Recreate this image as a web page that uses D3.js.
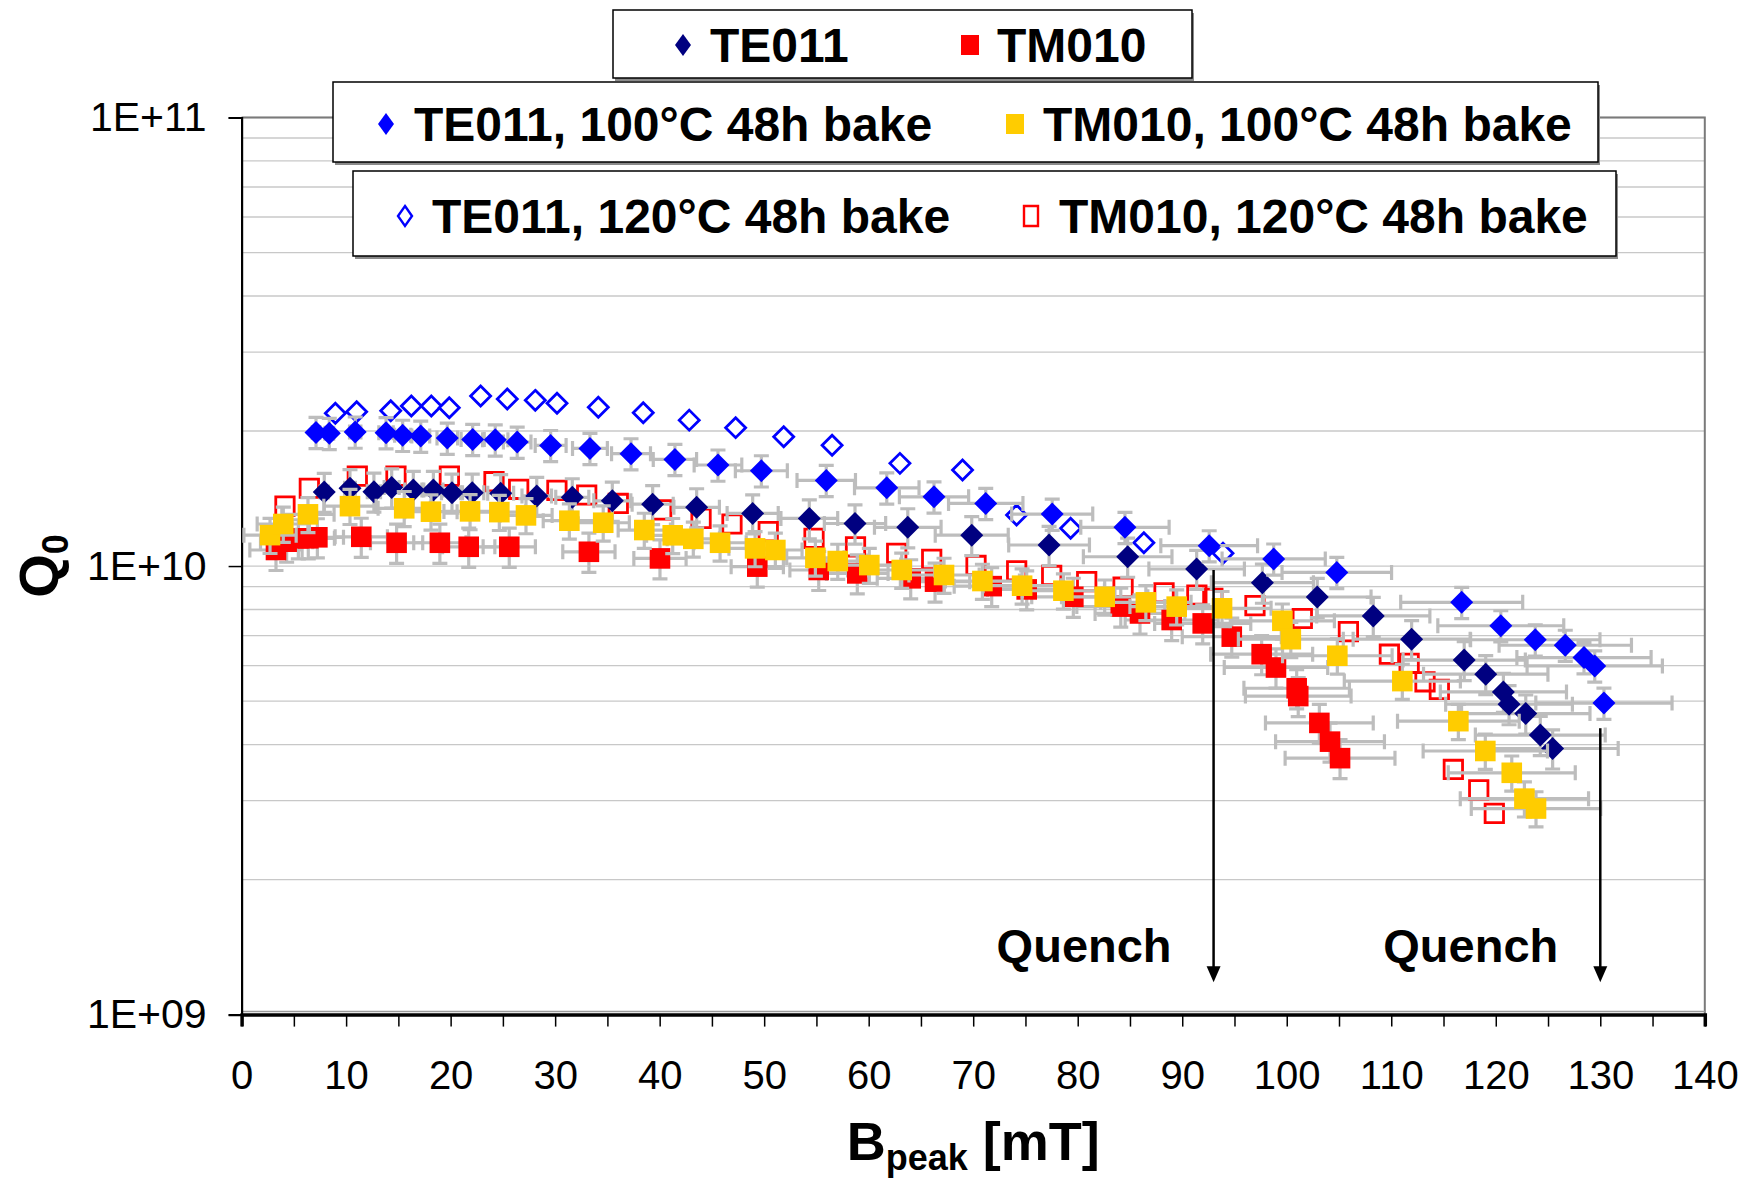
<!DOCTYPE html>
<html><head><meta charset="utf-8">
<script src="https://cdn.jsdelivr.net/npm/d3@7"></script>
<style>html,body{margin:0;padding:0;background:#fff}svg{display:block}</style>
</head><body>
<script>
// ---------------- DATA ----------------
const Q_UNIT = 1e10;               // Q values below are in units of 1E+10
const xTickValues = [0,10,20,30,40,50,60,70,80,90,100,110,120,130,140];
const xMinorTicks = [5,15,25,35,45,55,65,75,85,95,105,115,125,135];
const yTickValues = [1e9,1e10,1e11];
const yTickLabels = ["1E+09","1E+10","1E+11"];

// TE011 (navy filled diamonds)
const te011_B = [7.91,10.37,12.66,14.36,16.43,18.35,20.13,22.07,24.79,28.24,31.64,35.47,39.33,43.54,48.9,54.32,58.69,63.74,69.86,77.26,84.78,91.38,97.67,102.92,108.28,111.95,116.98,119.04,120.73,121.27,122.87,124.26,125.44];
const te011_Q = [1.463,1.491,1.465,1.497,1.478,1.478,1.457,1.457,1.453,1.433,1.423,1.398,1.374,1.352,1.310,1.277,1.244,1.220,1.172,1.114,1.049,0.985,0.918,0.853,0.774,0.687,0.617,0.574,0.524,0.492,0.469,0.420,0.392];

// TM010 (red filled squares)
const tm010_B = [3.29,4.31,5.43,6.38,7.25,11.45,14.83,18.97,21.73,25.61,33.23,40.03,49.34,55.22,58.91,64.02,66.35,71.77,75.12,79.58,84.12,85.96,88.99,91.96,94.74,97.6,98.97,100.95,101.1,103.12,104.14,105.1];
const tm010_Q = [1.086,1.133,1.153,1.153,1.159,1.162,1.127,1.127,1.104,1.104,1.076,1.040,0.997,0.980,0.963,0.939,0.923,0.902,0.887,0.854,0.812,0.784,0.758,0.745,0.696,0.636,0.594,0.534,0.513,0.447,0.406,0.373];

// TE011, 100°C 48h bake (blue filled diamonds)
const te011b100_B = [7.12,8.39,10.87,13.82,15.41,17.14,19.68,22.11,24.27,26.37,29.57,33.33,37.26,41.46,45.58,49.73,55.94,61.73,66.25,71.2,77.56,84.52,92.58,98.75,104.79,116.74,120.48,123.78,126.65,128.44,129.47,130.35];
const te011b100_Q = [1.986,1.976,1.990,1.983,1.957,1.949,1.929,1.916,1.912,1.890,1.857,1.829,1.780,1.729,1.680,1.631,1.552,1.494,1.427,1.379,1.306,1.220,1.110,1.037,0.968,0.830,0.736,0.685,0.666,0.625,0.599,0.495];

// TM010, 100°C 48h bake (gold filled squares)
const tm010b100_B = [2.72,3.99,6.35,10.37,15.56,18.12,21.86,24.66,27.21,31.36,34.6,38.53,41.25,43.22,45.78,49.13,51.07,54.9,57.04,60.06,63.16,67.21,70.88,74.68,78.63,82.58,86.52,89.47,93.81,99.58,100.39,104.84,111.06,116.42,119.0,121.53,122.74,123.85];
const tm010b100_Q = [1.172,1.241,1.304,1.360,1.345,1.322,1.324,1.319,1.297,1.262,1.249,1.203,1.171,1.150,1.127,1.095,1.086,1.043,1.026,1.005,0.980,0.955,0.926,0.904,0.881,0.854,0.830,0.812,0.805,0.755,0.687,0.631,0.554,0.451,0.387,0.346,0.303,0.288];

// TE011, 120°C 48h bake (open blue diamonds)
const te011b120_B = [8.97,11.01,14.27,16.24,18.15,19.87,22.87,25.42,28.1,30.18,34.13,38.43,42.83,47.27,51.87,56.5,62.99,68.98,74.15,79.32,86.33,93.9];
const te011b120_Q = [2.190,2.209,2.219,2.273,2.273,2.254,2.393,2.357,2.341,2.306,2.259,2.196,2.115,2.035,1.942,1.859,1.694,1.637,1.299,1.214,1.127,1.068];

// TM010, 120°C 48h bake (open red squares)
const tm010b120_B = [4.15,6.48,11.07,14.77,19.88,24.15,26.51,30.17,33.02,36.04,40.19,43.96,46.92,50.39,54.77,58.74,62.68,66.03,70.27,74.16,77.51,80.86,84.34,88.26,91.4,92.93,96.96,101.49,105.9,109.82,111.71,113.23,114.6,115.94,118.37,119.86];
const tm010b120_Q = [1.360,1.491,1.587,1.587,1.587,1.542,1.483,1.475,1.440,1.379,1.334,1.277,1.241,1.193,1.153,1.104,1.068,1.035,1.003,0.976,0.953,0.923,0.897,0.872,0.862,0.847,0.816,0.764,0.714,0.636,0.607,0.552,0.531,0.352,0.317,0.281];

// Error-bar sizes (relative y error, relative x error, minimum x error in mT)
const errTE011 = {y:0.10, x:0.05, xMin:0};
const errTM010 = {y:0.10, x:0.05, xMin:2.5};
const errTE011b100 = {y:0.08, x:0.05, xMin:0};
const errTM010b100 = {y:0.09, x:0.05, xMin:2.5};

// Quench annotations: arrow at B (mT), from Q top to Q bottom
const quenchB = [93, 130];
const quenchTop = [0.98e10, 4.35e9];
const quenchBottom = [1.18e9, 1.18e9];
const quenchLabel = ["Quench","Quench"];

const legendLabels = ["TE011","TM010","TE011, 100°C 48h bake","TM010, 100°C 48h bake","TE011, 120°C 48h bake","TM010, 120°C 48h bake"];

// ---------------- CHART ----------------
const W = 1754, H = 1181;
const FONT = "'Liberation Sans', Arial, Helvetica, sans-serif";
const plot = {left:241.6, right:1704.8, top:117.5, bottom:1014.6};

const svg = d3.select("body").append("svg").attr("width", W).attr("height", H)
  .style("font-family", FONT);
svg.append("rect").attr("width", W).attr("height", H).attr("fill", "#fff");

const x = d3.scaleLinear().domain([0,140]).range([plot.left, plot.right]);
const y = d3.scaleLog().domain([1e9,1e11]).range([plot.bottom, plot.top]);

// gridlines (major + minor log)
const gridVals = [];
for (let d = 1e9; d < 1e11; d *= 10) for (let k = 1; k <= 9; k++) gridVals.push(d*k);
gridVals.push(1e11);
svg.append("g").selectAll("line").data(gridVals.filter(v => v > 1e9)).join("line")
  .attr("x1", plot.left).attr("x2", plot.right)
  .attr("y1", d => y(d)).attr("y2", d => y(d))
  .attr("stroke", "#c8c8c8").attr("stroke-width", 1.3);

// plot border top/right
svg.append("path")
  .attr("d", `M${plot.left},${plot.top}H${plot.right}V${plot.bottom}`)
  .attr("fill", "none").attr("stroke", "#7a7a7a").attr("stroke-width", 2);

// axes
const xAxis = d3.axisBottom(x).tickValues(xTickValues).tickSize(12).tickFormat(d => d).tickPadding(34);
const gx = svg.append("g").attr("transform", `translate(0,${plot.bottom})`).call(xAxis);
gx.select(".domain").attr("stroke", "#000").attr("stroke-width", 3.5);
gx.selectAll(".tick line").attr("stroke", "#000").attr("stroke-width", 1.5);
gx.selectAll(".tick text").attr("font-size", 40).attr("font-family", FONT).attr("fill", "#000");
svg.append("g").attr("transform", `translate(0,${plot.bottom})`)
  .call(d3.axisBottom(x).tickValues(xMinorTicks).tickSize(12).tickFormat(""))
  .call(g => { g.select(".domain").remove(); g.selectAll("line").attr("stroke", "#000").attr("stroke-width", 1.5); });
svg.append("line").attr("x1", plot.left).attr("x2", plot.right)
  .attr("y1", plot.bottom - 3).attr("y2", plot.bottom - 3).attr("stroke", "#9a9a9a").attr("stroke-width", 1.5);

const yAxis = d3.axisLeft(y).tickValues(yTickValues).tickSize(13)
  .tickFormat((d, i) => yTickLabels[i]).tickPadding(22);
const gy = svg.append("g").attr("transform", `translate(${plot.left},0)`).call(yAxis);
gy.select(".domain").attr("stroke", "#000").attr("stroke-width", 2.2);
gy.selectAll(".tick line").attr("stroke", "#000").attr("stroke-width", 1.5);
gy.selectAll(".tick text").attr("font-size", 41).attr("font-family", FONT).attr("fill", "#000");

// axis titles
const xt = svg.append("text").attr("x", (plot.left + plot.right)/2).attr("y", 1160)
  .attr("text-anchor", "middle").attr("font-weight", "bold").attr("font-size", 54);
xt.append("tspan").text("B");
xt.append("tspan").attr("font-size", 36).attr("dy", 10).text("peak");
xt.append("tspan").attr("dy", -10).text(" [mT]");

const yt = svg.append("text").attr("transform", `translate(58,${(plot.top+plot.bottom)/2}) rotate(-90)`)
  .attr("text-anchor", "middle").attr("font-weight", "bold").attr("font-size", 56);
yt.append("tspan").text("Q");
yt.append("tspan").attr("font-size", 36).attr("dy", 10).text("0");

// series
const zip = (B, Q) => B.map((b, i) => ({b, q: Q[i]*Q_UNIT}));
const series = [
  {name: legendLabels[4], data: zip(te011b120_B, te011b120_Q), shape: "diamond", fill: "#fff", stroke: "#0000ff", err: null},
  {name: legendLabels[5], data: zip(tm010b120_B, tm010b120_Q), shape: "square", fill: "none", stroke: "#ff0000", err: null},
  {name: legendLabels[0], data: zip(te011_B, te011_Q), shape: "diamond", fill: "#000080", stroke: null, err: errTE011},
  {name: legendLabels[1], data: zip(tm010_B, tm010_Q), shape: "square", fill: "#ff0000", stroke: null, err: errTM010},
  {name: legendLabels[2], data: zip(te011b100_B, te011b100_Q), shape: "diamond", fill: "#0000ff", stroke: null, err: errTE011b100},
  {name: legendLabels[3], data: zip(tm010b100_B, tm010b100_Q), shape: "square", fill: "#ffcc00", stroke: null, err: errTM010b100},
];

function markerPath(shape, open) {
  if (shape === "diamond") { const r = open ? 10 : 11.5; return `M0,${-r}L${r},0L0,${r}L${-r},0Z`; }
  const s = open ? 9.2 : 10.3; return `M${-s},${-s}H${s}V${s}H${-s}Z`;
}

const ERR_COL = "#bdbdbd", CAP = 7.5;
series.forEach(s => {
  const g = svg.append("g");
  if (s.err) {
    const e = s.err;
    const eb = g.append("g").attr("stroke", ERR_COL).attr("stroke-width", 3.2).attr("fill", "none");
    eb.selectAll("path").data(s.data).join("path").attr("d", d => {
      const xe = Math.max(d.b * e.x, e.xMin);
      const x0 = x(Math.max(d.b - xe, -2)), x1 = x(d.b + xe), cx = x(d.b), cy = y(d.q);
      const yt0 = y(d.q * (1 + e.y)), yb0 = y(d.q * (1 - e.y));
      return `M${x0},${cy}H${x1}M${x0},${cy-CAP}V${cy+CAP}M${x1},${cy-CAP}V${cy+CAP}` +
             `M${cx},${yt0}V${yb0}M${cx-CAP},${yt0}H${cx+CAP}M${cx-CAP},${yb0}H${cx+CAP}`;
    });
  }
  g.selectAll(".m").data(s.data).join("path").attr("class", "m")
    .attr("transform", d => `translate(${x(d.b)},${y(d.q)})`)
    .attr("d", markerPath(s.shape, !!s.stroke))
    .attr("fill", s.fill)
    .attr("stroke", s.stroke || "none").attr("stroke-width", s.stroke ? 2.8 : 0);
});

// quench arrows
quenchB.forEach((b, i) => {
  const ax = x(b), y0 = y(quenchTop[i]), y1 = y(quenchBottom[i]);
  svg.append("line").attr("x1", ax).attr("x2", ax).attr("y1", y0).attr("y2", y1 - 14)
    .attr("stroke", "#000").attr("stroke-width", 2.5);
  svg.append("path").attr("d", `M${ax-7},${y1-16}L${ax+7},${y1-16}L${ax},${y1}Z`).attr("fill", "#000");
  svg.append("text").attr("x", ax - 42).attr("y", 962).attr("text-anchor", "end")
    .attr("font-weight", "bold").attr("font-size", 47).text(quenchLabel[i]);
});

// legends
const legendBoxes = [
  {x:613, y:10, w:579, h:68, items:[{s:2, mx:683, tx:710}, {s:3, mx:970, tx:997}], base:62},
  {x:333, y:82, w:1265, h:80, items:[{s:4, mx:386, tx:414}, {s:5, mx:1015, tx:1043}], base:141},
  {x:353, y:171, w:1263, h:85, items:[{s:0, mx:405, tx:432}, {s:1, mx:1031, tx:1059}], base:233},
];
legendBoxes.forEach(lb => {
  const g = svg.append("g");
  g.append("rect").attr("x", lb.x + 2).attr("y", lb.y + 3).attr("width", lb.w).attr("height", lb.h).attr("fill", "#8a8a8a");
  g.append("rect").attr("x", lb.x).attr("y", lb.y).attr("width", lb.w).attr("height", lb.h)
    .attr("fill", "#fff").attr("stroke", "#000").attr("stroke-width", 1.5);
  lb.items.forEach(it => {
    const s = series[it.s];
    const my = lb.base - 17;
    g.append("path").attr("transform", `translate(${it.mx},${my})`)
      .attr("d", s.shape === "diamond"
        ? (s.stroke ? "M0,-10L7,0L0,10L-7,0Z" : "M0,-11L8,0L0,11L-8,0Z")
        : (s.stroke ? "M-7,-10H7V10H-7Z" : "M-9,-10H9V10H-9Z"))
      .attr("fill", s.fill).attr("stroke", s.stroke || "none").attr("stroke-width", s.stroke ? 2.4 : 0);
    g.append("text").attr("x", it.tx).attr("y", lb.base).attr("font-weight", "bold")
      .attr("font-size", 48).attr("fill", "#000").text(s.name);
  });
});
</script>
</body></html>
